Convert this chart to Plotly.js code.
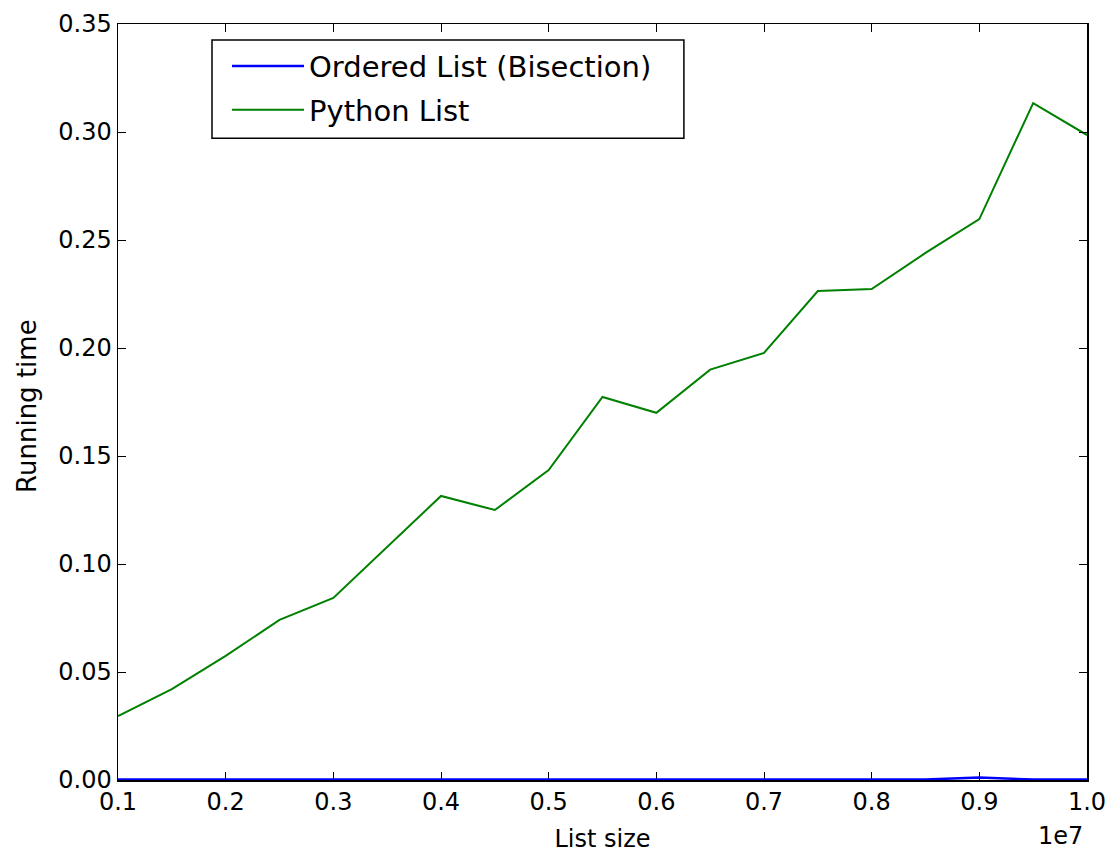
<!DOCTYPE html>
<html>
<head>
<meta charset="utf-8">
<script src="https://cdn.plot.ly/plotly-3.0.1.min.js"></script>
<style>html,body{margin:0;padding:0;background:#fff;}#chart{width:1107px;height:853px;}</style>
</head>
<body>
<div id="chart"></div>
<script>
const listSizes = [1000000,1500000,2000000,2500000,3000000,3500000,4000000,4500000,5000000,5500000,6000000,6500000,7000000,7500000,8000000,8500000,9000000,9500000,10000000];
const orderedListTimes = [0.0002,0.0002,0.0002,0.0002,0.0002,0.0002,0.0002,0.0002,0.0002,0.0002,0.0002,0.0002,0.0002,0.0002,0.0002,0.0002,0.0012,0.0002,0.0002];
const pythonListTimes = [0.0296,0.0421,0.0575,0.0741,0.0843,0.108,0.1315,0.125,0.1435,0.1773,0.170,0.190,0.1977,0.2264,0.2273,0.244,0.2597,0.3134,0.2986];
const xTickVals = [1000000,2000000,3000000,4000000,5000000,6000000,7000000,8000000,9000000,10000000];
const xTickText = ['0.1','0.2','0.3','0.4','0.5','0.6','0.7','0.8','0.9','1.0'];

const font = 'DejaVu Sans, sans-serif';
const traces = [
  {x: listSizes, y: orderedListTimes, type: 'scatter', mode: 'lines', name: 'Ordered List (Bisection)', legendgroup: 'a', line: {color: '#0000ff', width: 2.5}},
  {x: listSizes, y: pythonListTimes, type: 'scatter', mode: 'lines', name: 'Python List', legendgroup: 'b', line: {color: '#008000', width: 2}}
];
const layout = {
  width: 1107, height: 853,
  margin: {l: 118, r: 20, t: 24, b: 73},
  paper_bgcolor: '#fff', plot_bgcolor: '#fff',
  font: {family: font, color: '#000', size: 24},
  showlegend: true,
  legend: {x: 0.1125, y: 0.978, xanchor: 'left', yanchor: 'top', bgcolor: 'rgba(0,0,0,0)', borderwidth: 0, font: {size: 29, family: font}, itemwidth: 72, tracegroupgap: 3},
  shapes: [
    {type: 'rect', xref: 'paper', yref: 'paper', x0: 0.097, x1: 0.584, y0: 0.849, y1: 0.979, line: {color: '#000', width: 1.5}, fillcolor: '#fff', layer: 'above'}
  ],
  xaxis: {
    range: [1000000, 10000000], tickvals: xTickVals, ticktext: xTickText,
    ticks: 'inside', ticklen: 8, tickwidth: 1, tickcolor: '#000',
    showline: true, linecolor: '#000', linewidth: 1.5, mirror: 'allticks',
    showgrid: false, zeroline: false, layer: 'below traces',
    tickfont: {size: 24, family: font},
    title: {text: 'List size', font: {size: 24, family: font}, standoff: 16}
  },
  yaxis: {
    range: [0, 0.35], dtick: 0.05, tick0: 0, tickformat: '.2f',
    ticks: 'inside', ticklen: 8, tickwidth: 1, tickcolor: '#000',
    showline: true, linecolor: '#000', linewidth: 1.5, mirror: 'allticks',
    showgrid: false, zeroline: false,
    tickfont: {size: 24, family: font}
  },
  annotations: [
    {text: 'Running time', xref: 'paper', yref: 'paper', x: -0.094, y: 0.5, xanchor: 'center', yanchor: 'middle', yshift: -4, textangle: -90, showarrow: false, font: {size: 26, family: font}},
    {text: '1e7', xref: 'paper', yref: 'paper', x: 1.0, y: 0, xanchor: 'right', yanchor: 'top', yshift: -40, xshift: -2, showarrow: false, font: {size: 24, family: font}}
  ]
};
Plotly.newPlot('chart', traces, layout, {displayModeBar: false, staticPlot: true});
</script>
</body>
</html>
